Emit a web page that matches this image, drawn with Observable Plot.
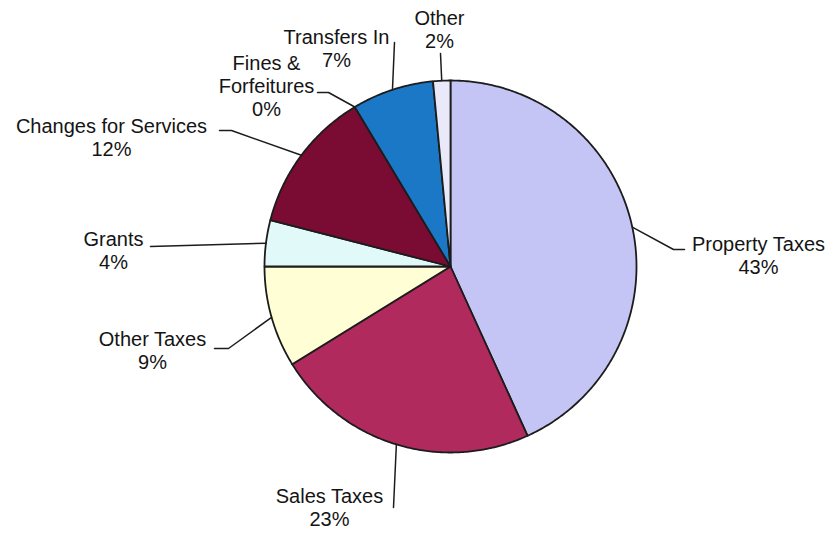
<!DOCTYPE html>
<html>
<head>
<meta charset="utf-8">
<script src="https://cdn.jsdelivr.net/npm/d3@7"></script>
<script src="https://cdn.jsdelivr.net/npm/@observablehq/plot@0.6"></script>
<style>
  html, body { margin: 0; padding: 0; background: #ffffff; }
  #chart svg { display: block; }
</style>
</head>
<body>
<div id="chart"></div>
<script>
// ---- data ----
const categories = ["Property Taxes", "Sales Taxes", "Other Taxes", "Grants",
  "Changes for Services", "Fines &\nForfeitures", "Transfers In", "Other"];
const shares = [43.2, 23.0, 8.8, 4.0, 12.4, 0.0, 7.1, 1.5];
const percentLabels = ["43%", "23%", "9%", "4%", "12%", "0%", "7%", "2%"];

// ---- styles / layout ----
const colors = ["#C4C5F4", "#B02A5E", "#FFFED4", "#E2F9F9", "#7A0B33", "#9A9A9A", "#1A78C6", "#E9E9FA"];
const W = 833, H = 535, cx = 450, cy = 266, R = 186;
// label text (center x, top y) and leader bend points, in page pixels
const labelLayout = [
  {tx: 758, ty: 234, path: [[684, 249], [673, 249]]},
  {tx: 329, ty: 486, path: [[393, 507]]},
  {tx: 152, ty: 329, path: [[214, 348], [228, 348]]},
  {tx: 113, ty: 229, path: [[150, 246]]},
  {tx: 111, ty: 116, path: [[219, 130], [231, 130]]},
  {tx: 266, ty: 53,  path: [[317, 92], [328, 92]]},
  {tx: 336, ty: 27,  path: [[394, 42]]},
  {tx: 439, ty: 8,   path: [[440, 53]]}
];

// ---- geometry from data ----
const arcs = d3.pie().sort(null).value(d => d)(shares);
const slices = [];
arcs.forEach((a, i) => {
  if (shares[i] <= 0) return;
  const cat = categories[i];
  slices.push({cat, x: 0, y: 0});
  const n = Math.max(2, Math.ceil((a.endAngle - a.startAngle) / 0.01));
  for (let k = 0; k <= n; k++) {
    const t = a.startAngle + (a.endAngle - a.startAngle) * k / n;
    slices.push({cat, x: R * Math.sin(t), y: R * Math.cos(t)});
  }
  slices.push({cat, x: 0, y: 0});
});

const toX = px => px - cx;
const toY = py => cy - py;
const leaders = [];
const labels = [];
arcs.forEach((a, i) => {
  const mid = (a.startAngle + a.endAngle) / 2;
  const L = labelLayout[i];
  L.path.forEach(([px, py]) => leaders.push({id: i, x: toX(px), y: toY(py)}));
  leaders.push({id: i, x: R * Math.sin(mid), y: R * Math.cos(mid)});
  labels.push({x: toX(L.tx), y: toY(L.ty), text: categories[i] + "\n" + percentLabels[i]});
});

const chart = Plot.plot({
  width: W,
  height: H,
  margin: 0,
  x: {domain: [-cx, W - cx], range: [0, W], axis: null},
  y: {domain: [cy - H, cy], range: [H, 0], axis: null},
  color: {domain: categories, range: colors},
  style: {background: "#ffffff"},
  marks: [
    Plot.line(slices, {x: "x", y: "y", z: "cat", fill: "cat", stroke: "#1c1c1c",
      strokeWidth: 1.8, strokeLinejoin: "round", curve: "linear"}),
    Plot.line(leaders, {x: "x", y: "y", z: "id", stroke: "#1c1c1c", strokeWidth: 1.5, curve: "linear"}),
    Plot.text(labels, {x: "x", y: "y", text: "text", textAnchor: "middle", lineAnchor: "top",
      lineHeight: 1.15, fontSize: 20, fill: "#141414",
      fontFamily: "'Liberation Sans', Arial, sans-serif"})
  ]
});
document.getElementById("chart").appendChild(chart);
</script>
</body>
</html>
